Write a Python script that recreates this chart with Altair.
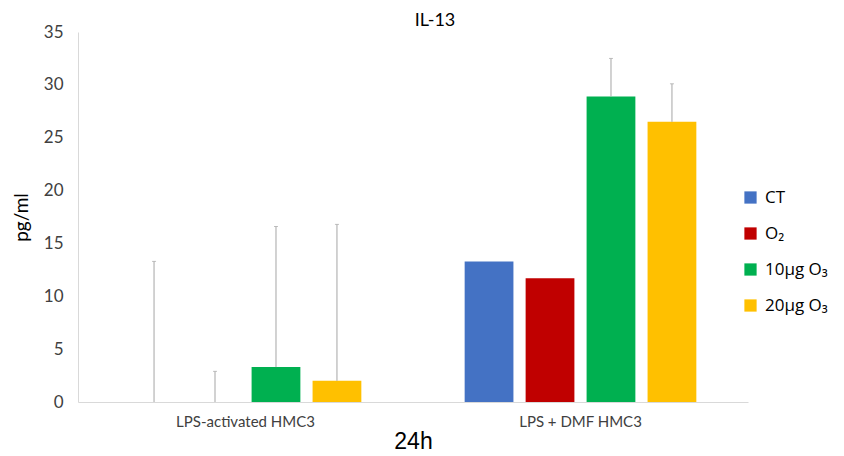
import altair as alt
import pandas as pd

groups = ["LPS-activated HMC3", "LPS + DMF HMC3"]
treatments = ["CT", "O₂", "10µg O₃", "20µg O₃"]
colors = ["#4472C4", "#C00000", "#00B050", "#FFC000"]

means_g1 = [0.0, 0.0, 3.3, 2.0]
upper_g1 = [13.3, 2.9, 16.6, 16.8]
means_g2 = [13.3, 11.7, 28.9, 26.5]
upper_g2 = [13.3, 11.7, 32.5, 30.1]
has_err_g2 = [False, False, True, True]

rows = []
for t, m, u in zip(treatments, means_g1, upper_g1):
    rows.append({"group": groups[0], "treat": t, "value": m, "upper": u, "err": True})
for t, m, u, e in zip(treatments, means_g2, upper_g2, has_err_g2):
    rows.append({"group": groups[1], "treat": t, "value": m, "upper": u, "err": e})
df = pd.DataFrame(rows)

FONT = "Lato"

x_enc = alt.X("group:N", sort=groups,
              scale=alt.Scale(paddingInner=0.272, paddingOuter=0.136),
              axis=alt.Axis(title="24h", labelAngle=0, ticks=False,
                            labelFontSize=15, labelColor="#404040", labelFont=FONT,
                            labelPadding=12, titleFont="Liberation Sans",
                            titleFontSize=23, titleFontWeight="normal",
                            titleColor="#000000", titlePadding=1,
                            domainColor="#D9D9D9"))
xo_enc = alt.XOffset("treat:N", sort=treatments,
                     scale=alt.Scale(paddingInner=0.2, paddingOuter=0.1))

bars = alt.Chart(df).mark_bar().encode(
    x=x_enc,
    xOffset=xo_enc,
    y=alt.Y("value:Q", scale=alt.Scale(domain=[0, 35]),
            axis=alt.Axis(title="pg/ml", values=list(range(0, 36, 5)), grid=False,
                          ticks=False, labelFontSize=17, labelColor="#404040",
                          labelFont=FONT, labelPadding=15, titleFont=FONT,
                          titleFontSize=19, titleFontWeight="normal",
                          titleColor="#000000", titlePadding=12,
                          domainColor="#D9D9D9")),
    color=alt.Color("treat:N", sort=treatments,
                    scale=alt.Scale(domain=treatments, range=colors),
                    legend=alt.Legend(title=None, orient="none", legendX=664,
                                      legendY=157, symbolType="square",
                                      symbolSize=150, symbolStrokeWidth=0,
                                      labelFontSize=17, labelFont="Open Sans",
                                      labelColor="#000000", rowPadding=18,
                                      labelOffset=6)),
)

err = df[df["err"]]
rules = alt.Chart(err).mark_rule(color="#A5A5A5", strokeWidth=1).encode(
    x=alt.X("group:N", sort=groups),
    xOffset=alt.XOffset("treat:N", sort=treatments),
    y="value:Q",
    y2="upper:Q",
)
caps = alt.Chart(err).mark_tick(color="#A5A5A5", thickness=1, size=4).encode(
    x=alt.X("group:N", sort=groups),
    xOffset=alt.XOffset("treat:N", sort=treatments),
    y="upper:Q",
)

chart = alt.layer(bars, rules, caps).properties(
    width=670, height=370,
    title=alt.TitleParams("IL-13", fontSize=18, font=FONT, fontWeight="normal",
                          color="#000000", dx=22, offset=-7),
    autosize=alt.AutoSizeParams(type="none"),
    padding={"left": 70, "top": 24, "right": 86, "bottom": 50},
).configure_view(stroke=None)

chart.save("out.html", embed_options={"renderer": "svg", "actions": False})
